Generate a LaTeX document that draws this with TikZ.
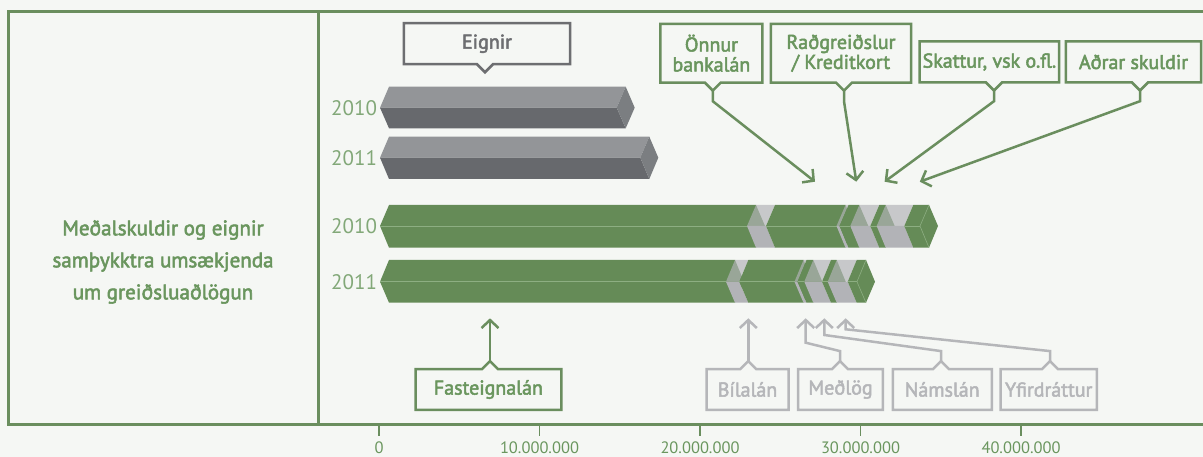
\documentclass[tikz,border=0pt]{standalone}
\usepackage{fontspec}
\setmainfont{PT Sans}
\newfontfamily\boxfont[FakeBold=2.5]{PT Sans}
\usetikzlibrary{arrows.meta}
\definecolor{bgpaper}{HTML}{F5F7F4}
\definecolor{framegreen}{HTML}{6A8E5E}
\definecolor{textgreen}{HTML}{6A965E}
\definecolor{yeargreen}{HTML}{82A878}
\definecolor{bargreen}{HTML}{658B57}
\definecolor{midgreen}{HTML}{8DAE82}
\definecolor{debtgray}{HTML}{B2B3B7}
\definecolor{assettop}{HTML}{939598}
\definecolor{assetbot}{HTML}{67696D}
\definecolor{assetend}{HTML}{7B7E81}
\definecolor{labelgray}{HTML}{B5B6B9}
\definecolor{eigngray}{HTML}{6D6E71}
\tikzset{
  frameline/.style={draw=framegreen, line width=3pt},
  debtbox/.style={inner sep=0pt, align=center, text=textgreen,
    font=\boxfont\fontsize{20}{20}\selectfont},
  graybox/.style={debtbox, text=labelgray},
  assetbox/.style={debtbox, text=eigngray},
  greenline/.style={draw=framegreen, line width=2.5pt},
  grayline/.style={draw=labelgray, line width=2.5pt},
  darkline/.style={draw=eigngray, line width=2.5pt},
  greenarrow/.style={greenline, -{Straight Barb[length=8pt, width=17pt]}},
  grayarrow/.style={grayline, -{Straight Barb[length=8pt, width=17pt]}},
  yearlabel/.style={text=yeargreen, anchor=west, inner sep=0pt,
    font=\fontsize{21}{21}\selectfont},
  ticklabel/.style={text=textgreen, inner sep=0pt,
    font=\fontsize{16.5}{16.5}\selectfont}
}
% bar pieces: top, mid, bottom, from, to
\newcommand{\assetbar}[5]{%
  \fill[assettop] (#4-9,#2) -- (#4,#1) -- (#5,#1) -- (#5-9,#2) -- cycle;
  \fill[assetbot] (#4-9,#2) -- (#5-9,#2) -- (#5,#3) -- (#4,#3) -- cycle;
  \fill[assetend] (#5,#1) -- (#5+9,#2) -- (#5,#3) -- (#5-9,#2) -- cycle;}
\newcommand{\greenseg}[5]{%
  \fill[bargreen] (#4-9,#2) -- (#4,#1) -- (#5,#1) -- (#5+9,#2) -- (#5,#3) -- (#4,#3) -- cycle;
  \draw[midgreen, line width=0.8pt] (#4-9,#2) -- (#5-9,#2);}
\newcommand{\grayseg}[5]{%
  \fill[debtgray, opacity=0.68] (#4-9,#2) -- (#4,#1) -- (#5,#1) -- (#5-9,#2) -- cycle;
  \fill[debtgray] (#4-9,#2) -- (#5-9,#2) -- (#5,#3) -- (#4,#3) -- cycle;}
% callout outlines with a small notch
\newcommand{\notchbelow}[3][0]{%
  \draw[#3] (#2.north west) -- (#2.north east) -- (#2.south east)
    -- ([xshift=#1pt+8pt]#2.south) -- ([xshift=#1pt, yshift=-8pt]#2.south)
    -- ([xshift=#1pt-8pt]#2.south) -- (#2.south west) -- cycle;}
\newcommand{\notchabove}[3][0]{%
  \draw[#3] (#2.south west) -- (#2.south east) -- (#2.north east)
    -- ([xshift=#1pt+8pt]#2.north) -- ([xshift=#1pt, yshift=8pt]#2.north)
    -- ([xshift=#1pt-8pt]#2.north) -- (#2.north west) -- cycle;}

\begin{document}
\begin{tikzpicture}[x=1pt, y=-1pt]
  \fill[bgpaper] (0,0) rectangle (1203,457);
  \useasboundingbox (0,0) rectangle (1203,457);

  % Frame
  \draw[frameline] (1203,11.5) -- (8.5,11.5) -- (8.5,424) -- (1203,424);
  \draw[frameline] (318,11.5) -- (318,424);

  % Title
  \node[text=textgreen, align=center, font=\boxfont\fontsize{21}{32}\selectfont] (title) at (163,262)
    {Meðalskuldir og eignir\\samþykktra umsækjenda\\um greiðsluaðlögun};

  % Axis
  \foreach \v/\lab in {0/0, 1/10.000.000, 2/20.000.000, 3/30.000.000, 4/40.000.000} {
    \draw[framegreen, line width=1.5pt] (379+160.5*\v,424) -- (379+160.5*\v,436);
    \node[ticklabel] (tick\v) at (379+160.5*\v,447.5) {\lab};
  }

  % Years
  \node[yearlabel] (ya10) at (331,107.7) {2010};
  \node[yearlabel] (ya11) at (331,157.7) {2011};
  \node[yearlabel] (yd10) at (331,226) {2010};
  \node[yearlabel] (yd11) at (331,281.7) {2011};

  % Assets
  \assetbar{86.7}{107.7}{128.3}{389}{625.7}
  \assetbar{136.7}{157.7}{179}{389}{649.3}

  % Debts 2010
  \greenseg{205}{226}{247.7}{389}{756}
  \grayseg{205}{226}{247.7}{756}{775}
  \greenseg{205}{226}{247.7}{775}{845.5}
  \grayseg{205}{226}{247.7}{845.5}{848.5}
  \greenseg{205}{226}{247.7}{848.5}{859.3}
  \grayseg{205}{226}{247.7}{859.3}{879.3}
  \greenseg{205}{226}{247.7}{879.3}{885.7}
  \grayseg{205}{226}{247.7}{885.7}{913.3}
  \greenseg{205}{226}{247.7}{913.3}{929}
  \draw[midgreen, line width=0.6pt] (929,205) -- (920,226) -- (929,247.7);

  % Debts 2011
  \greenseg{260}{281.7}{302.7}{389}{735}
  \grayseg{260}{281.7}{302.7}{735}{748.3}
  \greenseg{260}{281.7}{302.7}{748.3}{803.5}
  \grayseg{260}{281.7}{302.7}{803.5}{806.5}
  \greenseg{260}{281.7}{302.7}{806.5}{813.3}
  \grayseg{260}{281.7}{302.7}{813.3}{831}
  \greenseg{260}{281.7}{302.7}{831}{836.7}
  \grayseg{260}{281.7}{302.7}{836.7}{856.7}
  \greenseg{260}{281.7}{302.7}{856.7}{866}
  \draw[midgreen, line width=0.6pt] (866,260) -- (857,281.7) -- (866,302.7);

  % Callouts above
  \node[assetbox, minimum width=166pt, minimum height=40.7pt] (eignir) at (487,43.7) {Eignir};
  \node[debtbox, minimum width=101.6pt, minimum height=58.3pt] (onnur) at (711.4,53.2) {Önnur\\bankalán};
  \node[debtbox, minimum width=140pt, minimum height=58.3pt] (radgr) at (841,53.2) {Raðgreiðslur\\/ Kreditkort};
  \node[debtbox, minimum width=139.2pt, minimum height=40.6pt] (skattur) at (989.4,62) {Skattur, vsk o.fl.};
  \node[debtbox, minimum width=135pt, minimum height=40.6pt] (adrar) at (1133.5,62) {Aðrar skuldir};
  \notchbelow[-2]{eignir}{darkline}
  \notchbelow[1.4]{onnur}{greenline}
  \notchbelow[3]{radgr}{greenline}
  \notchbelow[4.6]{skattur}{greenline}
  \notchbelow[6.5]{adrar}{greenline}

  \coordinate (onnurend) at (815,181.7);
  \coordinate (radgrend) at (856.3,181.7);
  \coordinate (skattend) at (884.6,181.7);
  \coordinate (adrarend) at (919.8,181.7);
  \draw[greenarrow] ([xshift=1.4pt, yshift=-8pt]onnur.south) -- ++(0,10.7) -- (onnurend);
  \draw[greenarrow] ([xshift=3pt, yshift=-8pt]radgr.south) -- ++(0,10.7) -- (radgrend);
  \draw[greenarrow] ([xshift=4.6pt, yshift=-8pt]skattur.south) -- ++(0,10.7) -- (skattend);
  \draw[greenarrow] ([xshift=6.5pt, yshift=-8pt]adrar.south) -- ++(0,10.7) -- (adrarend);

  % Callouts below
  \node[debtbox, minimum width=145.3pt, minimum height=40.4pt] (fasteign) at (488.4,389.5) {Fasteignalán};
  \node[graybox, minimum width=81.6pt, minimum height=40.4pt] (bilalan) at (747.5,389.5) {Bílalán};
  \node[graybox, minimum width=84.4pt, minimum height=40.4pt] (medlog) at (840.5,389.5) {Meðlög};
  \node[graybox, minimum width=98.7pt, minimum height=40.4pt] (namslan) at (942.3,389.5) {Námslán};
  \node[graybox, minimum width=96pt, minimum height=40.4pt] (yfirdr) at (1048.7,389.5) {Yfirdráttur};
  \notchabove[1.6]{fasteign}{greenline}
  \notchabove[0.8]{bilalan}{grayline}
  \notchabove[-0.5]{medlog}{grayline}
  \notchabove[-1.3]{namslan}{grayline}
  \notchabove[1.3]{yfirdr}{grayline}

  \coordinate (fastend) at (490,318.3);
  \coordinate (bilend) at (748.3,318.3);
  \coordinate (medend) at (805.7,318.3);
  \coordinate (namend) at (824.3,318.3);
  \coordinate (yfirend) at (845.7,318.3);
  \draw[greenarrow] ([xshift=1.6pt, yshift=8pt]fasteign.north) -- (fastend);
  \draw[grayarrow] ([xshift=0.8pt, yshift=8pt]bilalan.north) -- (bilend);
  \draw[grayarrow] ([xshift=-0.5pt, yshift=8pt]medlog.north) -- ++(0,-10) -- (805.7,342.7) -- (medend);
  \draw[grayarrow] ([xshift=-1.3pt, yshift=8pt]namslan.north) -- ++(0,-10) -- (824.3,335) -- (namend);
  \draw[grayarrow] ([xshift=1.3pt, yshift=8pt]yfirdr.north) -- ++(0,-10) -- (845.7,329.3) -- (yfirend);
\end{tikzpicture}
\end{document}
